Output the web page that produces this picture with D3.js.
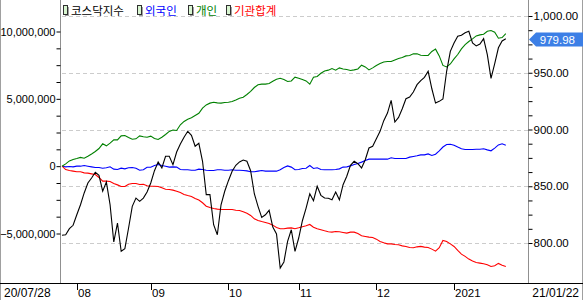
<!DOCTYPE html>
<html>
<head>
<meta charset="utf-8">
<script src="https://cdn.jsdelivr.net/npm/d3@7"></script>
<style>
  body { margin: 0; background: #fff; }
  svg { display: block; }
  text { font-family: "Liberation Sans", Arial, sans-serif; }
  .kr { font-family: "Noto Sans CJK KR", sans-serif; }
</style>
</head>
<body>
<div id="chart"></div>
<script>
// trading days 20/07/28 .. 21/01/22, one value per day
const kosdaq = [806.8, 807.3, 812.6, 815.6, 824.9, 833.7, 844.1, 852.9, 857.3, 862.3,
  859.6, 845.6, 853.7, 833.7, 800.9, 817.6, 792.7, 795.0, 813.2, 832.3,
  839.6, 836.7, 839.6, 844.9, 852.9, 863.7, 871.4, 866.1, 876.4, 876.4,
  869.0, 880.2, 887.2, 893.1, 898.4, 894.9, 885.2, 887.8, 872.0, 842.6,
  842.6, 816.1, 807.3, 833.7, 845.6, 854.9, 863.2, 868.5, 871.4, 873.1,
  872.0, 863.7, 843.4, 832.3, 822.6, 824.9, 828.8, 814.1, 807.9, 778.0,
  783.3, 801.5, 811.7, 792.7, 804.4, 819.6, 830.8, 843.4, 837.3, 850.0,
  842.0, 839.6, 839.4, 838.1, 844.9, 838.1, 851.4, 858.8, 868.5, 872.0,
  869.9, 866.1, 873.4, 883.7, 885.2, 891.9, 898.4, 907.8, 914.5, 925.7,
  906.6, 910.7, 918.3, 927.1, 928.6, 933.0, 939.5, 943.0, 946.0, 951.3,
  935.9, 923.3, 924.8, 926.9, 951.3, 968.9, 976.2, 982.1, 983.0, 985.3,
  986.5, 976.2, 973.6, 975.3, 980.0, 966.0, 945.0, 958.0, 972.0, 978.0, 979.98];

const foreign = [0, -50000, -20000, -50000, 0, 0, 50000, 0, -50000, -100000,
  -100000, -150000, -120000, -50000, -220000, -250000, -150000, -200000, -120000, -100000,
  -150000, -300000, -270000, -80000, -80000, 50000, 120000, 50000, 0, -70000,
  -50000, -70000, -250000, -270000, -270000, -300000, -300000, -220000, -250000, -300000,
  -320000, -320000, -270000, -270000, -300000, -300000, -270000, -300000, -300000, -320000,
  -350000, -420000, -420000, -370000, -320000, -370000, -370000, -370000, -370000, -270000,
  -100000, 20000, -70000, -270000, -250000, -170000, -150000, 50000, -170000, -120000,
  -250000, -270000, -270000, -270000, -250000, -200000, -70000, -50000, 20000, 120000,
  200000, 300000, 420000, 520000, 520000, 520000, 520000, 520000, 520000, 620000,
  570000, 570000, 570000, 570000, 670000, 720000, 770000, 840000, 840000, 910000,
  790000, 890000, 1140000, 1420000, 1610000, 1630000, 1560000, 1420000, 1290000, 1240000,
  1240000, 1240000, 1260000, 1260000, 1290000, 1210000, 1140000, 1340000, 1580000, 1660000, 1560000];

const individual = [0, 170000, 390000, 500000, 570000, 650000, 590000, 740000, 910000, 1090000,
  1310000, 1660000, 1510000, 1710000, 1950000, 1950000, 2250000, 2280000, 2130000, 2000000,
  2030000, 2250000, 2180000, 2150000, 2230000, 2060000, 1980000, 2150000, 2350000, 2580000,
  2690000, 2650000, 3070000, 3320000, 3490000, 3590000, 3760000, 3930000, 4310000, 4550000,
  4680000, 4750000, 4700000, 4680000, 4730000, 4750000, 4800000, 4920000, 5050000, 5120000,
  5320000, 5550000, 5840000, 6040000, 6090000, 6090000, 6140000, 6310000, 6460000, 6530000,
  6440000, 6290000, 6330000, 6610000, 6530000, 6440000, 6330000, 6090000, 6610000, 6660000,
  6900000, 7070000, 7130000, 7250000, 7130000, 7300000, 7220000, 7180000, 7100000, 7150000,
  7220000, 7500000, 7370000, 7150000, 7300000, 7480000, 7620000, 7740000, 7770000, 7770000,
  7890000, 8000000, 8070000, 8190000, 8220000, 8340000, 8340000, 8240000, 8220000, 8220000,
  8520000, 8690000, 8190000, 7480000, 7370000, 7590000, 7970000, 8290000, 8710000, 9030000,
  9260000, 9450000, 9670000, 9750000, 9800000, 10020000, 10070000, 9950000, 9500000, 9550000, 9850000];

const institution = [0, -250000, -320000, -370000, -420000, -420000, -500000, -520000, -570000, -620000,
  -840000, -1110000, -1110000, -1140000, -1290000, -1390000, -1510000, -1510000, -1340000, -1290000,
  -1290000, -1360000, -1340000, -1460000, -1490000, -1490000, -1510000, -1610000, -1710000, -1730000,
  -1780000, -1860000, -1960000, -2100000, -2180000, -2250000, -2400000, -2520000, -2720000, -2970000,
  -3070000, -3140000, -3190000, -3220000, -3220000, -3220000, -3220000, -3270000, -3290000, -3390000,
  -3490000, -3660000, -3910000, -4030000, -4110000, -4180000, -4260000, -4380000, -4550000, -4650000,
  -4650000, -4600000, -4580000, -4650000, -4580000, -4500000, -4430000, -4330000, -4530000, -4650000,
  -4720000, -4800000, -4870000, -4900000, -4850000, -4870000, -4920000, -4970000, -4900000, -4900000,
  -5000000, -5170000, -5220000, -5270000, -5300000, -5420000, -5590000, -5690000, -5770000, -5770000,
  -5820000, -5840000, -5920000, -5960000, -6040000, -6060000, -5990000, -5960000, -6010000, -6040000,
  -6160000, -6310000, -6060000, -5520000, -5590000, -5770000, -5960000, -6260000, -6530000, -6700000,
  -6900000, -7050000, -7150000, -7200000, -7250000, -7320000, -7450000, -7400000, -7220000, -7350000, -7450000];

const seriesNames = ["코스닥지수", "외국인", "개인", "기관합계"];
const seriesColors = ["#000000", "#0000ff", "#008000", "#ff0000"];

// first trading day of each month (index into the arrays above)
const monthStart = [4, 24, 45, 64, 85, 106];
const monthLabels = ["08", "09", "10", "11", "12", "2021"];
const firstDate = "20/07/28", lastDate = "21/01/22";

const leftTicks = [-5000000, 0, 5000000, 10000000];
const rightTicks = [800, 850, 900, 950, 1000];

const W = 583, H = 300;
const plot = {left: 61, right: 528, top: 14, bottom: 283};

const svg = d3.select("#chart").append("svg")
  .attr("width", W).attr("height", H);

const x = d3.scaleLinear().domain([0, 126]).range([62, 528]);
const yL = d3.scaleLinear().domain([-5000000, 10000000]).range([233.5, 31.5]);
const yR = d3.scaleLinear().domain([800, 1000]).range([243, 16]);

// grid (from the right axis)
svg.append("g").selectAll("line").data(rightTicks).join("line")
  .attr("x1", plot.left + 1).attr("x2", plot.right)
  .attr("y1", d => Math.round(yR(d)) + 0.5).attr("y2", d => Math.round(yR(d)) + 0.5)
  .attr("stroke", "#cccccc").attr("stroke-dasharray", "4,3");

// frame
svg.append("line").attr("x1", 0.5).attr("x2", 0.5).attr("y1", 0).attr("y2", H)
  .attr("stroke", "#a0a0a0");
svg.append("line").attr("x1", W - 0.5).attr("x2", W - 0.5).attr("y1", 0).attr("y2", H)
  .attr("stroke", "#a0a0a0");
[plot.left - 0.5, plot.right + 0.5].forEach(px => {
  svg.append("line").attr("x1", px).attr("x2", px).attr("y1", 0).attr("y2", plot.bottom)
    .attr("stroke", "#909090").attr("stroke-width", 1);
});

// left axis
const leftMinor = d3.range(-5000000, 10000001, 1250000);
const gL = svg.append("g").attr("transform", `translate(${plot.left - 0.5},0)`)
  .call(d3.axisLeft(yL).tickValues(leftMinor).tickSize(4).tickPadding(1)
    .tickFormat(d => leftTicks.includes(d) ? d3.format(",")(d) : ""));
gL.select(".domain").remove();
gL.selectAll("text").style("font-size", "11px").attr("fill", "#000");

// right axis
const rightMinor = d3.range(800, 1000.1, 12.5);
const gR = svg.append("g").attr("transform", `translate(${plot.right + 0.5},0)`)
  .call(d3.axisRight(yR).tickValues(rightMinor).tickSize(4).tickPadding(1)
    .tickFormat(d => rightTicks.includes(d) ? d3.format(",.2f")(d) : ""));
gR.select(".domain").remove();
gR.selectAll("text").style("font-size", "11.5px").attr("fill", "#000");

// bottom axis
svg.append("line").attr("x1", 0).attr("x2", W)
  .attr("y1", plot.bottom + 0.5).attr("y2", plot.bottom + 0.5).attr("stroke", "#000");
const gX = svg.append("g");
gX.selectAll("line").data(monthStart).join("line")
  .attr("x1", d => Math.round(x(d)) + 0.5).attr("x2", d => Math.round(x(d)) + 0.5)
  .attr("y1", plot.bottom).attr("y2", plot.bottom + 7).attr("stroke", "#000");
gX.selectAll("text").data(monthStart).join("text")
  .attr("x", d => Math.round(x(d)) + 1).attr("y", 297)
  .style("font-size", "11.5px").text((d, i) => monthLabels[i]);
svg.append("text").attr("x", 4).attr("y", 297).style("font-size", "12px").text(firstDate);
svg.append("text").attr("x", 579).attr("y", 297).attr("text-anchor", "end")
  .style("font-size", "12px").text(lastDate);

// lines
const lineL = d3.line().x((d, i) => x(i)).y(d => yL(d));
const lineR = d3.line().x((d, i) => x(i)).y(d => yR(d));
const lines = svg.append("g").attr("fill", "none").attr("stroke-width", 1.1);
lines.append("path").datum(foreign).attr("d", lineL).attr("stroke", seriesColors[1]);
lines.append("path").datum(institution).attr("d", lineL).attr("stroke", seriesColors[3]);
lines.append("path").datum(individual).attr("d", lineL).attr("stroke", seriesColors[2]);
lines.append("path").datum(kosdaq).attr("d", lineR).attr("stroke", seriesColors[0]);

// current value tag
const last = kosdaq[kosdaq.length - 1];
const ty = Math.round(yR(last)) + 0.5;
svg.append("path")
  .attr("d", `M${plot.right + 1},${ty} L${plot.right + 8},${ty - 7} L${W},${ty - 7} L${W},${ty + 7} L${plot.right + 8},${ty + 7} Z`)
  .attr("fill", "#3c7fe6");
svg.append("text").attr("x", 575).attr("y", ty + 4.5).attr("text-anchor", "end")
  .attr("fill", "#fff").style("font-size", "11.5px").text(d3.format(".2f")(last));

// legend
const legendX = [63, 137, 188, 226];
const leg = svg.append("g").selectAll("g").data(seriesNames).join("g")
  .attr("transform", (d, i) => `translate(${legendX[i]},0)`);
leg.append("rect").attr("x", 2).attr("y", 7).attr("width", 4).attr("height", 9).attr("fill", "#a0a0a0");
leg.append("rect").attr("x", 0.5).attr("y", 5.5).attr("width", 4).attr("height", 9)
  .attr("fill", "#d8f5d0").attr("stroke", "#303030");
leg.append("text").attr("class", "kr").attr("x", 8).attr("y", 14.5)
  .style("font-size", "11.5px").attr("fill", (d, i) => seriesColors[i]).text(d => d);
</script>
</body>
</html>
